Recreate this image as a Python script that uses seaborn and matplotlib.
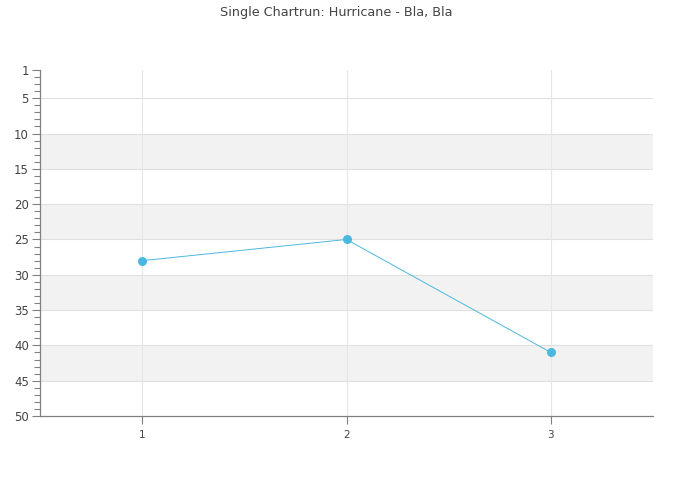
import matplotlib
matplotlib.use("Agg")
import matplotlib.pyplot as plt
import seaborn as sns
import pandas as pd
import numpy as np

runs = [1, 2, 3]
positions = [28, 25, 41]
title = "Single Chartrun: Hurricane - Bla, Bla"
y_ticks = [1, 5, 10, 15, 20, 25, 30, 35, 40, 45, 50]
bands = [(10, 15), (20, 25), (30, 35), (40, 45)]

sns.set_theme(style="white")
plt.rcParams['font.family'] = ['DejaVu Sans']

df = pd.DataFrame({"run": runs, "pos": positions})

fig = plt.figure(figsize=(6.73, 5.0), dpi=100)
ax = fig.add_axes([40/673, 84/500, 613/673, 346/500])

for lo, hi in bands:
    ax.axhspan(lo, hi, color="#f2f2f2", zorder=0, lw=0)
for t in y_ticks[1:-1]:
    ax.axhline(t, color="#e0e0e0", lw=0.8, zorder=1)
for r in runs:
    ax.axvline(r, color="#e6e6e6", lw=0.8, zorder=1)

sns.lineplot(data=df, x="run", y="pos", ax=ax, color="#4cb8df", lw=0.7,
             marker="o", markersize=6.5, markeredgewidth=0, zorder=3)

ax.set_xlim(0.5, 3.5)
ax.set_ylim(50, 1)
ax.set_yticks(y_ticks)
ax.set_yticks(np.arange(1, 51, 1), minor=True)
ax.set_xticks(runs)
ax.set_xticklabels([str(r) for r in runs])
ax.set_xlabel("")
ax.set_ylabel("")

for s in ["top", "right"]:
    ax.spines[s].set_visible(False)
for s in ["left", "bottom"]:
    ax.spines[s].set_color("#808080")
    ax.spines[s].set_linewidth(0.9)

ax.tick_params(axis="y", which="major", length=6, width=0.8, color="#808080",
               labelsize=8.5, labelcolor="#444444", pad=2, left=True)
ax.tick_params(axis="y", which="minor", length=4, width=0.8, color="#808080", left=True)
ax.tick_params(axis="x", which="major", length=6, width=0.8, color="#808080",
               labelsize=7.5, labelcolor="#444444", pad=4, bottom=True)

fig.suptitle(title, y=0.988, fontsize=9.2, color="#444444")

fig.savefig("out.png", dpi=100)
